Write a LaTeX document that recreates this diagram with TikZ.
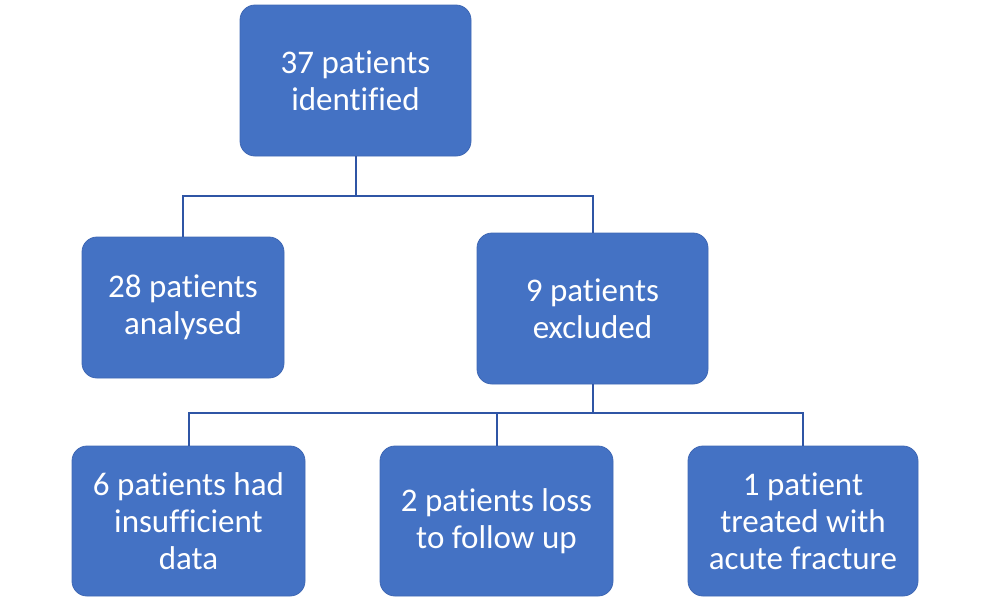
\documentclass[tikz,border=0pt]{standalone}
\usepackage{fontspec}
\setmainfont{Carlito}[Ligatures={NoCommon}]
\definecolor{boxblue}{HTML}{4472C4}
\definecolor{boxedge}{HTML}{3F68B4}
\definecolor{linkblue}{HTML}{2F55A5}
\tikzset{
  box/.style = {rectangle, rounded corners=7.5pt, fill=boxblue, draw=boxedge,
                line width=0.4pt, text=white, align=center, inner sep=2pt,
                font=\fontsize{16.5}{18.5}\selectfont,
                minimum width=#1},
  box/.default = 115.5pt,
  link/.style = {draw=linkblue, line width=1pt}
}
\begin{document}
\begin{tikzpicture}[x=0.5pt, y=-0.5pt]
	\def \hbig{75.5pt}
	\def \hlow{75pt}
	\useasboundingbox (0,0) rectangle (986,602);

	% Top level
	\node[box, minimum height=\hbig] (ident) at (355.5,80.5) {37 patients\\identified};

	% Second level
	\node[box=101pt, minimum height=70.5pt] (anal) at (183,307.5) {28 patients\\analysed};
	\node[box, minimum height=\hbig] (excl) at (592.5,308.5) {9 patients\\excluded};

	% Third level
	\node[box=116.5pt, minimum height=\hlow] (insuf) at (188.5,521) {6 patients had\\insufficient\\data};
	\node[box=116.5pt, minimum height=\hlow] (follow) at (496.5,521) {2 patients loss\\to follow up};
	\node[box=115pt, minimum height=\hlow] (acute) at (803,521) {1 patient\\treated with\\acute fracture};

	% Connectors
	\coordinate (split1) at (ident.south |- 0,196);
	\coordinate (split2) at (excl.south |- 0,413);
	\draw[link] (ident.south) -- (split1);
	\draw[link] (anal.north) |- (split1) -| (excl.north);
	\draw[link] (excl.south) -- (split2);
	\draw[link] (insuf.north) |- (split2) -| (acute.north);
	\draw[link] (follow.north) -- (follow.north |- split2);
\end{tikzpicture}
\end{document}
